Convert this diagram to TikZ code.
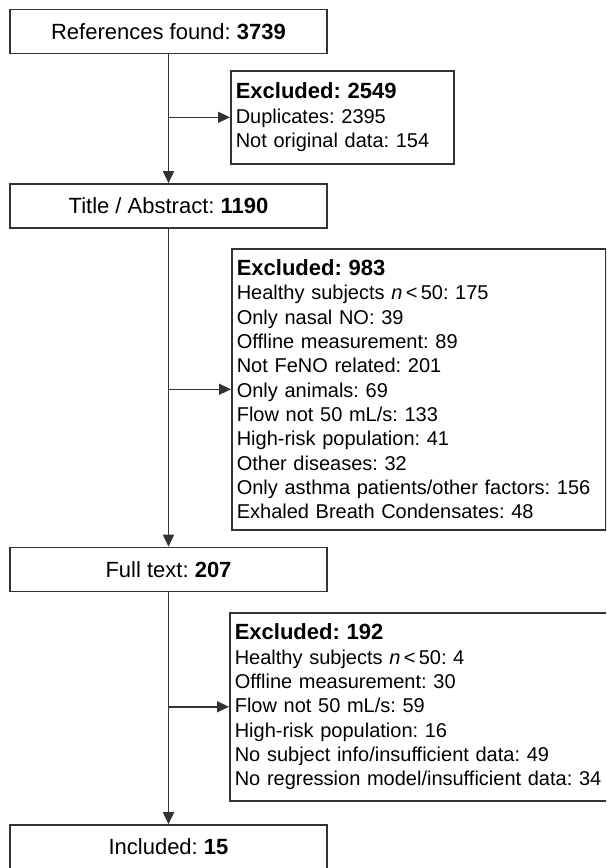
\documentclass[tikz,border=0pt]{standalone}
\usepackage{fontspec}
\setmainfont{Liberation Sans}
\usetikzlibrary{arrows.meta,positioning,calc}
\definecolor{linegray}{rgb}{.2,.2,.2}
\frenchspacing

\begin{document}
\begin{tikzpicture}[x=1pt,y=-1pt,
    mainbox/.style={draw=linegray, line width=1.6pt, minimum width=317pt,
        minimum height=44pt, inner sep=0pt, font=\fontsize{22}{26}\selectfont},
    exbox/.style={draw=linegray, line width=1.6pt, anchor=north west, align=left,
        inner xsep=5pt, inner ysep=0pt, font=\fontsize{20}{24.3}\selectfont},
    flow/.style={draw=linegray, line width=1.6pt, -{Triangle[length=12pt,width=11pt]}}]

    \useasboundingbox (0,0) rectangle (606,868);
    \clip (0,0) rectangle (606,868); % the page cuts the right and bottom boxes

    % main column
    \node[mainbox] (Refs)  at (168.5,31.5) {References found: \textbf{3739}};
    \node[mainbox] (Title) at (168.5,206)  {Title / Abstract: \textbf{1190}};
    \node[mainbox] (Full)  at (168.5,569.5) {Full text: \textbf{207}};
    \node[mainbox] (Incl)  at (168.5,847)  {Included: \textbf{15}};

    % excluded boxes
    \node[exbox, text width=213pt, minimum height=93pt] (ExclA) at (230,70)
        {{\fontsize{22}{24.3}\selectfont\bfseries Excluded: 2549}\\
         Duplicates: 2395\\
         Not original data: 154};
    \node[exbox, text width=364pt, minimum height=281pt] (ExclB) at (231,248)
        {{\fontsize{22}{24.3}\selectfont\bfseries Excluded: 983}\\
         Healthy subjects \textit{n}\,<\,50: 175\\
         Only nasal NO: 39\\
         Offline measurement: 89\\
         Not FeNO related: 201\\
         Only animals: 69\\
         Flow not 50 mL/s: 133\\
         High-risk population: 41\\
         Other diseases: 32\\
         Only asthma patients/other factors: 156\\
         Exhaled Breath Condensates: 48};
    \node[exbox, text width=390pt, minimum height=188pt] (ExclC) at (229,612)
        {{\fontsize{22}{24.3}\selectfont\bfseries Excluded: 192}\\
         Healthy subjects \textit{n}\,<\,50: 4\\
         Offline measurement: 30\\
         Flow not 50 mL/s: 59\\
         High-risk population: 16\\
         No subject info/insufficient data: 49\\
         No regression model/insufficient data: 34};

    \coordinate (SplitA) at (Refs.south |- ExclA.west);
    \coordinate (SplitB) at (Title.south |- ExclB.west);
    \coordinate (SplitC) at (Full.south |- ExclC.west);

    \draw[flow] (Refs)  -- (Title);
    \draw[flow] (Title) -- (Full);
    \draw[flow] (Full)  -- (Incl);
    \draw[flow] (SplitA) -- (ExclA.west);
    \draw[flow] (SplitB) -- (ExclB.west);
    \draw[flow] (SplitC) -- (ExclC.west);
\end{tikzpicture}
\end{document}
